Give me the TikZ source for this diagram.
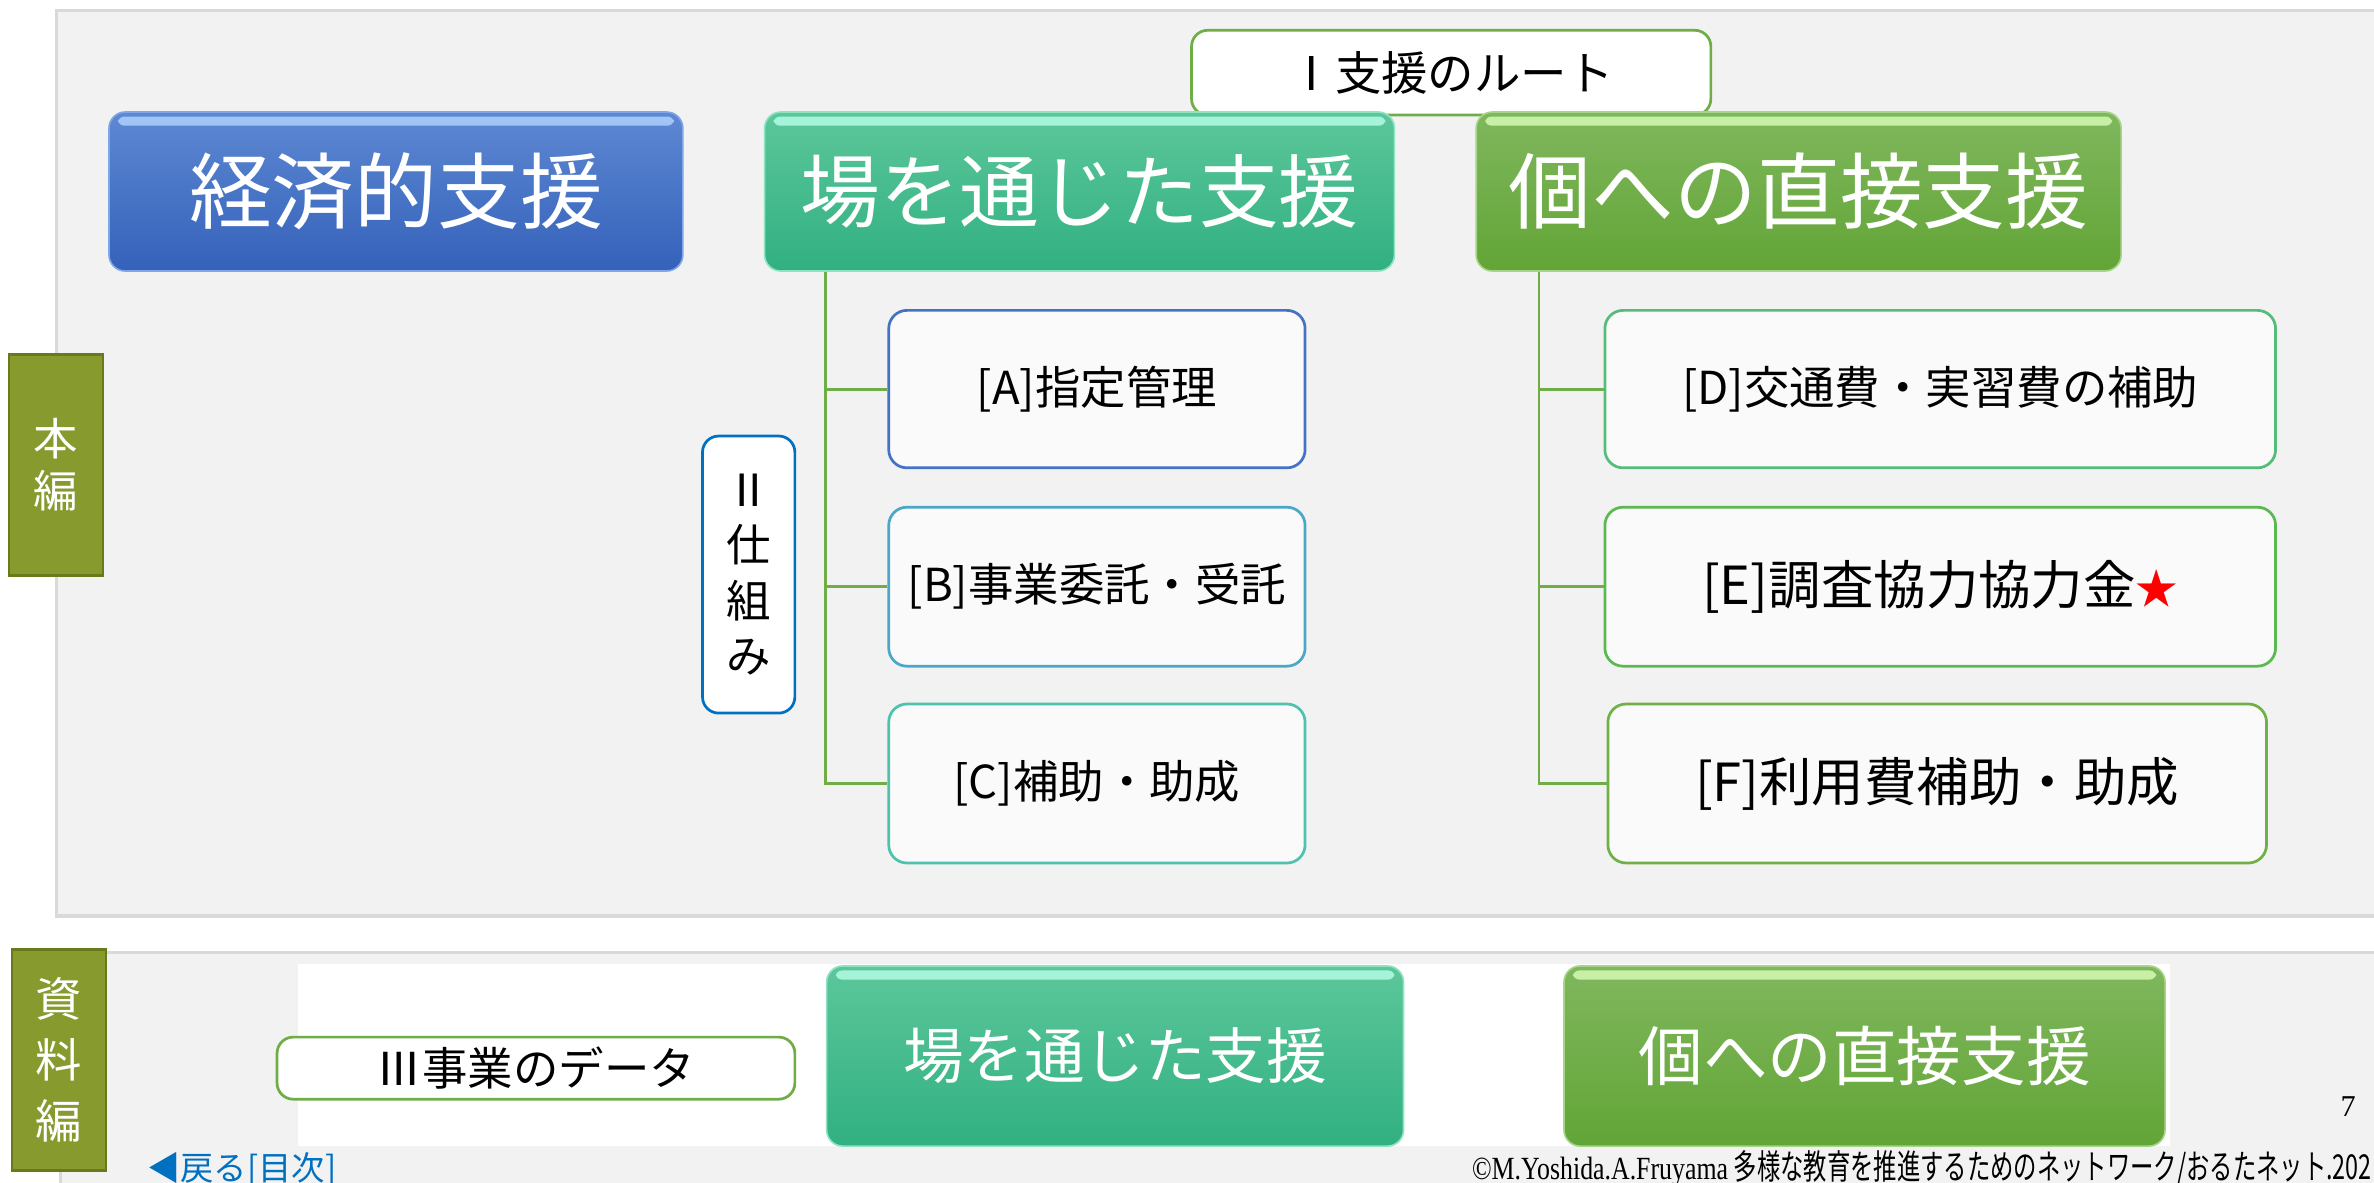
\documentclass[tikz,border=0pt]{standalone}
\usepackage{fontspec}
\usepackage{graphicx}
\setmainfont{Noto Sans CJK JP}
\newfontfamily\serifmix{Liberation Serif}
\usetikzlibrary{calc}
\definecolor{panelbg}{HTML}{F2F2F2}
\definecolor{panelline}{HTML}{D9D9D9}
\definecolor{olive}{HTML}{869A2D}
\definecolor{oliveedge}{HTML}{687A1C}
\definecolor{bluetop}{HTML}{5E88D3}
\definecolor{bluebot}{HTML}{3462BA}
\definecolor{bluehl}{HTML}{B4D4FF}
\definecolor{blueedge}{HTML}{7FA6E6}
\definecolor{tealtop}{HTML}{5CC79A}
\definecolor{tealbot}{HTML}{31B082}
\definecolor{tealhl}{HTML}{B8FFE8}
\definecolor{tealedge}{HTML}{8FE3C2}
\definecolor{grntop}{HTML}{80B75E}
\definecolor{grnbot}{HTML}{62A536}
\definecolor{grnhl}{HTML}{DAFFB8}
\definecolor{grnedge}{HTML}{A6D489}
\definecolor{treegreen}{HTML}{70AD47}
\definecolor{boxfill}{HTML}{FAFAFA}
\definecolor{edgeA}{HTML}{4472C4}
\definecolor{edgeB}{HTML}{4BA6C8}
\definecolor{edgeC}{HTML}{4DC2AC}
\definecolor{edgeD}{HTML}{55BC7C}
\definecolor{edgeE}{HTML}{5CB851}
\definecolor{edgeF}{HTML}{6FB047}
\definecolor{shikumiedge}{HTML}{0070C0}
\definecolor{linkblue}{HTML}{0070C0}
\definecolor{starred}{HTML}{FF0000}
\tikzset{
  sz/.style 2 args={minimum width=#1*0.75pt, minimum height=#2*0.75pt},
  btn/.style n args={3}{rounded corners=8pt, inner sep=0pt, text=white,
    top color=#1, bottom color=#2, line width=0.8pt,
    path picture={\fill[#3, opacity=0.8, rounded corners=3pt]
      ($(path picture bounding box.north west)+(6,3)$) rectangle
      ($(path picture bounding box.north east)+(-6,9)$);}},
  itembox/.style={draw, fill=boxfill, rounded corners=9pt, line width=1.35pt,
    inner sep=0pt, text=black},
  lblbox/.style={draw, fill=white, rounded corners=8pt, line width=1.35pt,
    inner sep=0pt, text=black},
  tab/.style={draw=oliveedge, fill=olive, line width=1.3pt, inner sep=0pt,
    text=white, align=center},
  tree/.style={draw=treegreen, line width=1.4pt}
}
\begin{document}
\begin{tikzpicture}[x=0.75pt, y=-0.75pt]
\useasboundingbox (0,0) rectangle (1568,781);
\fill[white] (0,0) rectangle (1568,781);
% panels
\draw[draw=panelline, fill=panelbg, line width=1.5pt] (37,7) rectangle (1580,605);
\draw[draw=panelline, fill=panelbg, line width=1.5pt] (40,629) rectangle (1580,795);
\fill[white] (197,637) rectangle (1433,757);
% tabs
\node[tab, sz={62}{146}, font=\fontsize{22}{26}\selectfont] (honpen) at (37,307) {本\\編};
\node[tab, sz={62}{146}, font=\fontsize{23}{30}\selectfont] (shiryo) at (39,700) {資\\料\\編};
% route label (behind buttons)
\node[lblbox, draw=treegreen, sz={343}{56}, font=\fontsize{23}{26}\selectfont] (route) at (958.5,48) {Ⅰ支援のルート};
% top buttons
\node[btn={bluetop}{bluebot}{bluehl}, draw=blueedge, sz={379}{105}, font=\fontsize{41}{45}\selectfont] (econ) at (261.5,126.5) {経済的支援};
\node[btn={tealtop}{tealbot}{tealhl}, draw=tealedge, sz={416}{105}, font=\fontsize{39.5}{45}\selectfont] (place) at (713,126.5) {場を通じた支援};
\node[btn={grntop}{grnbot}{grnhl}, draw=grnedge, sz={426}{105}, font=\fontsize{41}{45}\selectfont] (indiv) at (1188,126.5) {個への直接支援};
% items
\node[itembox, draw=edgeA, sz={275}{104}, font=\fontsize{22.5}{26}\selectfont] (A) at (724.5,257) {[A]指定管理};
\node[itembox, draw=edgeB, sz={275}{105}, font=\fontsize{22.5}{26}\selectfont] (B) at (724.5,387.5) {[B]事業委託・受託};
\node[itembox, draw=edgeC, sz={275}{105}, font=\fontsize{22.5}{26}\selectfont] (C) at (724.5,517.5) {[C]補助・助成};
\node[itembox, draw=edgeD, sz={443}{104}, font=\fontsize{22.5}{26}\selectfont] (D) at (1281.5,257) {[D]交通費・実習費の補助};
\node[itembox, draw=edgeE, sz={443}{105}, font=\fontsize{26}{30}\selectfont] (E) at (1281.5,387.5) {[E]調査協力協力金{\color{starred}\fontsize{21}{24}\selectfont ★}};
\node[itembox, draw=edgeF, sz={435}{105}, font=\fontsize{26}{30}\selectfont] (F) at (1279.5,517.5) {[F]利用費補助・助成};
% tree connectors
\draw[tree] ($(place.south west)+(41,0)$) |- (A.west);
\draw[tree] ($(place.south west)+(41,0)$) |- (B.west);
\draw[tree] ($(place.south west)+(41,0)$) |- (C.west);
\draw[tree] ($(indiv.south west)+(42,0)$) |- (D.west);
\draw[tree] ($(indiv.south west)+(42,0)$) |- (E.west);
\draw[tree] ($(indiv.south west)+(42,0)$) |- (F.west);
% shikumi
\node[lblbox, draw=shikumiedge, sz={61}{183}, align=center, font=\fontsize{22}{27.5}\selectfont] (shikumi) at (494.5,379.5) {Ⅱ\\仕\\組\\み};
% bottom section
\node[lblbox, draw=treegreen, sz={342}{41}, font=\fontsize{22.5}{26}\selectfont] (data) at (354,705.5) {Ⅲ事業のデータ};
\node[btn={tealtop}{tealbot}{tealhl}, draw=tealedge, sz={381}{119}, font=\fontsize{30}{34}\selectfont] (place2) at (736.5,697.5) {場を通じた支援};
\node[btn={grntop}{grnbot}{grnhl}, draw=grnedge, sz={397}{119}, font=\fontsize{32}{36}\selectfont] (indiv2) at (1231.5,697.5) {個への直接支援};
% footer
\node[anchor=west, inner sep=0pt, text=linkblue, font=\fontsize{16.5}{18}\selectfont] (back) at (97,772) {◀戻る[目次]};
\node[inner sep=0pt, font=\serifmix\fontsize{15}{17}\selectfont] (pnum) at (1551,731) {7};
\node[anchor=base west, inner sep=0pt, font=\fontsize{17}{19}\selectfont] (copy) at (972,779) {{\serifmix\fontsize{16}{18}\selectfont\scalebox{0.8}[1]{©M.Yoshida.A.Fruyama}}\,\scalebox{0.68}[1]{多様な教育を推進するためのネットワーク/おるたネット.202}};
\end{tikzpicture}
\end{document}
